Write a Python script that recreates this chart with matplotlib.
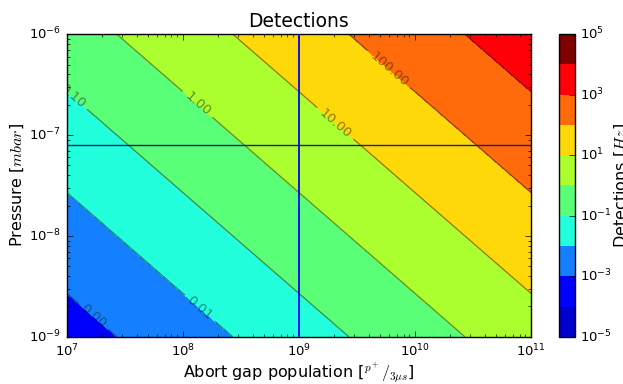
import numpy as np
import matplotlib
matplotlib.use('Agg')
import matplotlib.pyplot as plt
from matplotlib.colors import ListedColormap, LogNorm

plt.style.use('classic')
plt.rcParams['mathtext.fontset'] = 'cm'

# axis ranges (abort gap population, pressure)
x_range = [1e7, 1e11]
y_range = [1e-9, 1e-6]
detection_coeff = 0.037
# colour bands, one per decade
levels = [1e-5, 1e-4, 1e-3, 1e-2, 1e-1, 1e0, 1e1, 1e2, 1e3, 1e4, 1e5]
label_levels = [1e-3, 1e-2, 1e-1, 1e0, 1e1, 1e2]
cbar_ticks = [1e-5, 1e-3, 1e-1, 1e1, 1e3, 1e5]
# reference markers
x_marker = 1e9
y_marker = 8e-8

band_colors = ['#0000cd', '#0000ff', '#1480ff', '#22ffdc', '#5aff78',
               '#acff2f', '#ffd80a', '#ff6a0a', '#ff0008', '#800000']

x = np.logspace(np.log10(x_range[0]), np.log10(x_range[1]), 200)
y = np.logspace(np.log10(y_range[0]), np.log10(y_range[1]), 200)
X, Y = np.meshgrid(x, y)
D = detection_coeff * X * Y

fig = plt.figure(figsize=(6.23, 3.84), dpi=100, facecolor='white')
ax = fig.add_axes([0.107, 0.123, 0.745, 0.788])
cax = fig.add_axes([0.898, 0.123, 0.0246, 0.788])
ax.set_xscale('log')
ax.set_yscale('log')
ax.set_xlim(x_range)
ax.set_ylim(y_range)

norm = LogNorm(vmin=levels[0], vmax=levels[-1])
cf = ax.contourf(X, Y, D, levels=levels, cmap=ListedColormap(band_colors), norm=norm)

line_color = [(0.1, 0.1, 0.1, 0.5)]
other_levels = [lv for lv in levels if lv not in label_levels]
ax.contour(X, Y, D, levels=other_levels, colors=line_color, linewidths=0.9)
cl = ax.contour(X, Y, D, levels=label_levels, colors=line_color, linewidths=0.9)
manual = [(10**7.22, 10**-8.81), (10**8.12, 10**-8.755), (10**7.03, 10**-6.64),
          (10**8.11, 10**-6.72), (10**9.28, 10**-6.93), (10**9.79, 10**-6.33)]
ax.clabel(cl, fmt='%.2f', fontsize=9.5, manual=manual, inline=True)

ax.axvline(x_marker, color='#0000ff', lw=1.3, zorder=3)
ax.axhline(y_marker, color='#1c1c8c', lw=1, zorder=3)

ax.set_xlim(x_range)
ax.set_ylim(y_range)
ax.tick_params(labelsize=9.5)
ax.set_title('Detections', fontsize=13.5)
ax.set_xlabel(r'Abort gap population [$^{p^+}/_{3\mu s}$]', fontsize=11.5, labelpad=1)
ax.set_ylabel(r'Pressure [$mbar$]', fontsize=11.5, labelpad=2)

cb = fig.colorbar(cf, cax=cax)
cb.set_ticks(cbar_ticks)
cb.ax.minorticks_off()
cb.ax.tick_params(labelsize=9.5)
cb.set_label(r'Detections [$Hz$]', fontsize=11.5, labelpad=0)

fig.savefig('out.png', dpi=100, facecolor='white')
